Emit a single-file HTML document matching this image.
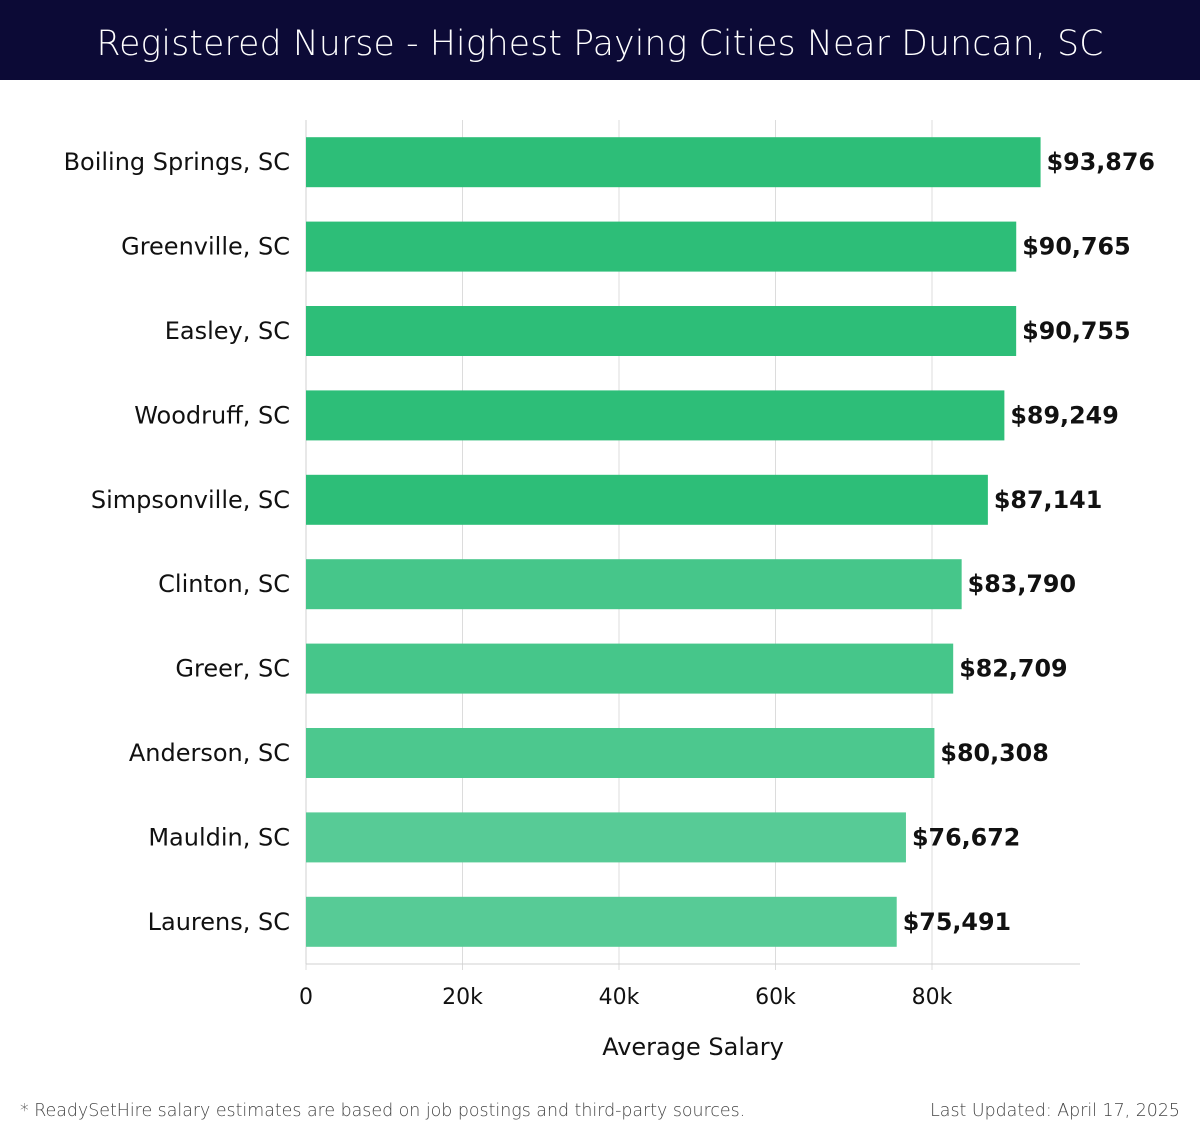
<!DOCTYPE html>
<html><head><meta charset="utf-8"><style>
body{margin:0;width:1200px;height:1140px;background:#fff;overflow:hidden;font-family:"DejaVu Sans","Liberation Sans",sans-serif;}
#hdr{position:absolute;left:0;top:0;width:1200px;height:80px;background:#0c0a36;color:#fff;font-size:34.5px;text-align:center;line-height:88px;font-family:"DejaVu Sans","Liberation Sans",sans-serif;font-weight:200;letter-spacing:0.2px}
.foot{position:absolute;top:1101px;font-size:17.4px;color:#444;font-family:"DejaVu Sans","Liberation Sans",sans-serif;font-weight:300}
</style></head><body>
<div id="hdr">Registered Nurse - Highest Paying Cities Near Duncan, SC</div>
<svg id="chart" width="1200" height="1140" style="position:absolute;left:0;top:0"></svg>
<div class="foot" style="left:20px">* ReadySetHire salary estimates are based on job postings and third-party sources.</div>
<div class="foot" style="right:20px">Last Updated: April 17, 2025</div>
<script>
const cities=["Boiling Springs, SC","Greenville, SC","Easley, SC","Woodruff, SC","Simpsonville, SC","Clinton, SC","Greer, SC","Anderson, SC","Mauldin, SC","Laurens, SC"];
const salaries=[93876,90765,90755,89249,87141,83790,82709,80308,76672,75491];
const ticks=[0,20000,40000,60000,80000];
const tickLabels=["0","20k","40k","60k","80k"];
const colors=["#2dbe78","#2dbe78","#2dbe78","#2dbe78","#2dbe78","#46c68a","#46c68a","#4cc88e","#57cb96","#57cb96"];
const svg=document.getElementById('chart');const NS="http://www.w3.org/2000/svg";
const x0=306,pxPer=(932-306)/80000,top0=120,step=84.4,bh=50,plotR=1080,axisY=964;
const X=v=>x0+v*pxPer;const Y=i=>top0+step*i+step/2;
function mk(t,a,txt){const e=document.createElementNS(NS,t);for(const k in a)e.setAttribute(k,a[k]);if(txt!==undefined)e.textContent=txt;svg.appendChild(e);return e;}
ticks.forEach((t,i)=>{
 const g=mk('line',{x1:X(t),x2:X(t),y1:top0,y2:axisY+6,stroke:'#dcdcdc','stroke-width':1});
 
 
 const l=mk('text',{x:X(t),y:1004,'text-anchor':'middle','font-size':22,fill:'#111'},tickLabels[i]);
 
 
});
const ax=mk('line',{x1:x0,x2:plotR,y1:axisY,y2:axisY,stroke:'#d0d0d0','stroke-width':1});


const ay=mk('line',{x1:x0,x2:x0,y1:top0,y2:axisY,stroke:'#d0d0d0','stroke-width':1});


cities.forEach((c,i)=>{
 const cy=Y(i);
 const r=mk('rect',{x:x0,y:cy-bh/2,width:X(salaries[i])-x0,height:bh,fill:colors[i]});
 
 
 const lb=mk('text',{x:290,y:cy+8,'text-anchor':'end','font-size':24,fill:'#111'},c);
 
 
 const v=mk('text',{x:X(salaries[i])+6,y:cy+8,'font-size':23.8,'font-weight':'bold',fill:'#111'},'$'+salaries[i].toLocaleString('en-US'));
 
 
});
const xt=mk('text',{x:693,y:1055,'text-anchor':'middle','font-size':24,fill:'#111'},'Average Salary');


</script>
</body></html>
